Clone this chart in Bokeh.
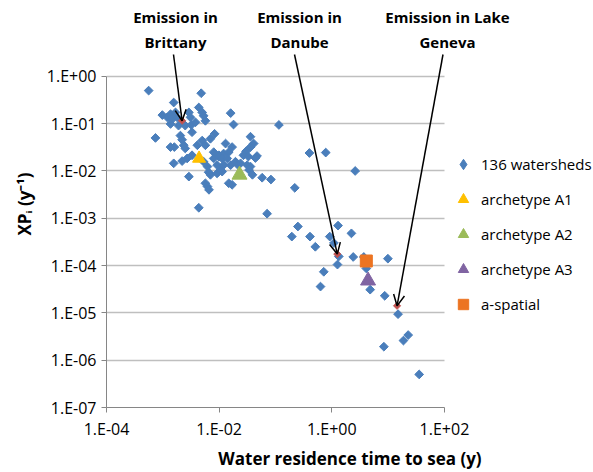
import numpy as np
from bokeh.plotting import figure
from bokeh.models import Legend, LegendItem, Label, Arrow, OpenHead, FixedTicker, Range1d
from bokeh.embed import file_html
from bokeh.resources import INLINE

# ---- data ----
ws_x = [5.6e-4, 4.8e-3, 1.56e-3, 9.8e-4, 1.2e-3, 1.37e-3, 1.47e-3, 1.68e-3, 1.8e-3, 2.9e-3,
        3.1e-3, 4.35e-3, 5.0e-3, 5.3e-3, 5.7e-3, 2.5e-3, 3.3e-3, 7.4e-4, 2.05e-3, 1.37e-3,
        1.6e-3, 2.35e-3, 2.5e-3, 4.1e-3, 5.0e-3, 5.7e-3, 7.0e-3, 8.3e-3, 1.9e-3, 3.2e-3,
        3.8e-3, 1.6e-2, 1.8e-2, 0.115, 1.3e-2, 1.7e-2, 3.6e-2, 4.1e-2, 3.6e-2, 3.0e-2,
        8.0e-3, 9.9e-3, 1.2e-2, 1.48e-2, 4.7e-2, 4.4e-2, 1.56e-3, 2.2e-3, 3.3e-3, 2.7e-3,
        2.9e-3, 5.3e-3, 6.2e-3, 7.0e-3, 9.2e-3, 1.13e-2, 8.0e-3, 9.9e-3, 1.13e-2, 1.39e-2,
        1.6e-2, 1.95e-2, 2.7e-2, 3.3e-2, 3.15e-2, 3.6e-2, 3.4e-2, 3.9e-2, 1.48e-2, 1.7e-2,
        5.7e-3, 6.2e-3, 6.6e-3, 5.8e-2, 8.3e-2, 4.35e-3, 7.1e-2, 2.1e-2, 2.4e-2, 9.2e-3,
        1.06e-2, 1.2e-2, 6.5e-3, 2.2e-3, 1.37e-3, 0.22, 0.40, 0.78, 2.6, 0.25,
        0.195, 0.41, 0.51, 0.92, 1.29, 2.23, 1.09, 1.33, 1.26, 2.4,
        0.72, 0.63, 4.1, 4.8, 9.9, 8.7, 15.0, 8.4, 18.7, 22.7,
        35.6, 3.7]
ws_y = [0.50, 0.44, 0.28, 0.152, 0.136, 0.159, 0.125, 0.173, 0.136, 0.173,
        0.136, 0.22, 0.173, 0.147, 0.115, 0.091, 0.066, 0.050, 0.056, 0.032,
        0.032, 0.035, 0.030, 0.035, 0.044, 0.035, 0.048, 0.061, 0.091, 0.094,
        0.107, 0.167, 0.096, 0.094, 0.038, 0.032, 0.053, 0.038, 0.032, 0.026,
        0.025, 0.0215, 0.0234, 0.025, 0.0207, 0.0188, 0.0145, 0.0162, 0.0215, 0.0184,
        7.6e-3, 0.0157, 0.0124, 8.3e-3, 8.9e-3, 9.7e-3, 0.0184, 0.020, 0.0184, 0.0184,
        0.0133, 0.0157, 0.0215, 0.0202, 0.0133, 0.0124, 0.0105, 8.3e-3, 5.5e-3, 5.1e-3,
        5.5e-3, 4.7e-3, 4.0e-3, 7.2e-3, 6.6e-3, 1.67e-3, 1.25e-3, 0.0138, 0.0145, 0.0133,
        0.0105, 0.0133, 9.4e-3, 0.0457, 0.0986, 4.4e-3, 0.024, 0.0245, 0.010, 6.7e-4,
        4.1e-4, 4.1e-4, 2.5e-4, 4.1e-4, 7.0e-4, 4.8e-4, 3.0e-4, 1.56e-4, 1.05e-4, 1.52e-4,
        7.4e-5, 3.6e-5, 8.7e-5, 3.1e-5, 1.4e-4, 2.3e-5, 9.4e-6, 1.93e-6, 2.6e-6, 3.4e-6,
        5.0e-7, 1.52e-4]

emis_x = [2.2e-3, 1.25, 14.4]
emis_y = [0.115, 1.75e-4, 1.41e-5]
emis_line1 = ["Emission in", "Emission in", "Emission in Lake"]
emis_line2 = ["Brittany", "Danube", "Geneva"]

a1_x, a1_y = [4.4e-3], [0.0184]
a2_x, a2_y = [2.3e-2], [8.3e-3]
a3_x, a3_y = [4.4], [4.8e-5]
asp_x, asp_y = [4.1], [1.25e-4]

series_labels = ["136 watersheds", "archetype A1", "archetype A2", "archetype A3", "a-spatial"]

x_ticks = [1e-4, 1e-2, 1.0, 1e2]
x_tick_labels = ["1.E-04", "1.E-02", "1.E+00", "1.E+02"]
y_ticks = [1e-7, 1e-6, 1e-5, 1e-4, 1e-3, 1e-2, 1e-1, 1.0]
y_tick_labels = ["1.E-07", "1.E-06", "1.E-05", "1.E-04", "1.E-03", "1.E-02", "1.E-01", "1.E+00"]

x_title = "Water residence time to sea (y)"
y_title = "XP\u1d62 (y\u207b\u00b9)"

FONT = "Open Sans"
BLUE = "#4A7EBB"

# the visible frame extends past the axes (to hold legend & annotations);
# axes/grid are bounded to the real axis extents
p = figure(width=593, height=472, x_axis_type="log", y_axis_type="log",
           x_range=Range1d(1e-4, 10 ** 4.646), y_range=Range1d(1e-7, 10 ** 1.604),
           output_backend="svg", toolbar_location=None,
           min_border_left=106, min_border_right=0, min_border_top=0, min_border_bottom=59)
p.outline_line_color = None
p.background_fill_color = "white"
p.border_fill_color = "white"
p.xgrid.visible = False
p.ygrid.grid_line_color = "#BFBFBF"
p.ygrid.grid_line_width = 1.3
if "cross_bounds" in p.ygrid[0].properties():
    p.ygrid.cross_bounds = (x_ticks[0], x_ticks[-1])

p.xaxis.ticker = FixedTicker(ticks=x_ticks)
p.yaxis.ticker = FixedTicker(ticks=y_ticks)
p.xaxis.bounds = (x_ticks[0], x_ticks[-1])
p.yaxis.bounds = (y_ticks[0], y_ticks[-1])
p.xaxis.major_label_overrides = dict(zip(x_ticks, x_tick_labels))
p.yaxis.major_label_overrides = dict(zip(y_ticks, y_tick_labels))
for ax in (p.xaxis, p.yaxis):
    ax.axis_line_color = "#868686"
    ax.major_tick_line_color = "#868686"
    ax.minor_tick_line_color = None
    ax.major_tick_out = 5
    ax.major_tick_in = 0
    ax.major_label_text_font = FONT
    ax.major_label_text_font_size = "16px"
    ax.major_label_text_color = "#000000"
    ax.major_label_standoff = 5
    ax.axis_label_text_font = FONT
    ax.axis_label_text_font_style = "bold"
    ax.axis_label_text_font_size = "17px"
    ax.axis_label_text_color = "#000000"
p.xaxis.axis_label = x_title
p.yaxis.axis_label = y_title
p.xaxis.axis_label_standoff = 4
p.yaxis.axis_label_standoff = 8

# points: a diamond layer (also used as the legend glyph) lies beneath
# equal-sided diamonds (rotated squares) that hide it completely
r_ws_leg = p.scatter(ws_x, ws_y, marker="diamond", size=6, fill_color=BLUE, line_color=BLUE)
p.scatter(ws_x, ws_y, marker="square", angle=np.pi / 4, size=6.2,
          fill_color=BLUE, line_color=BLUE)
p.scatter(emis_x, emis_y, marker="square", angle=np.pi / 4, size=5,
          fill_color="#C0504D", line_color="#C0504D")
r_a1 = p.scatter(a1_x, a1_y, marker="triangle", size=13, fill_color="#FFC000", line_color="#FFC000")
r_a2 = p.scatter(a2_x, a2_y, marker="triangle", size=15, fill_color="#9BBB59", line_color="#9BBB59")
r_a3 = p.scatter(a3_x, a3_y, marker="triangle", size=15, fill_color="#8064A2", line_color="#8064A2")
r_as = p.scatter(asp_x, asp_y, marker="square", size=12, fill_color="#EC7422", line_color="#EC7422")

legend = Legend(items=[LegendItem(label=l, renderers=[r]) for l, r in
                       zip(series_labels, [r_ws_leg, r_a1, r_a2, r_a3, r_as])],
                location=(344, 90), orientation="vertical",
                glyph_width=26, glyph_height=26, label_height=26, spacing=9,
                padding=0, margin=0, label_standoff=5,
                border_line_color=None, background_fill_alpha=0,
                label_text_font=FONT, label_text_font_size="15px", label_text_color="#000000")
p.add_layout(legend)

# arrows + annotation texts (screen units from the frame's bottom-left)
starts = [(67, 353), (188, 353), (336.5, 353)]
text_x = [69, 193, 341]
for i in range(3):
    p.add_layout(Arrow(end=OpenHead(size=11, line_width=1.5, line_color="black"),
                       x_start=starts[i][0], y_start=starts[i][1], start_units="screen",
                       x_end=emis_x[i], y_end=emis_y[i], end_units="data",
                       line_width=1.5, line_color="black"))
    for txt, ty in ((emis_line1[i], 391), (emis_line2[i], 366)):
        p.add_layout(Label(x=text_x[i], y=ty, x_units="screen", y_units="screen", text=txt,
                           text_align="center", text_baseline="middle", text_font=FONT,
                           text_font_style="bold", text_font_size="15px", text_color="#000000"))

open("out.html", "w").write(file_html(p, INLINE))
